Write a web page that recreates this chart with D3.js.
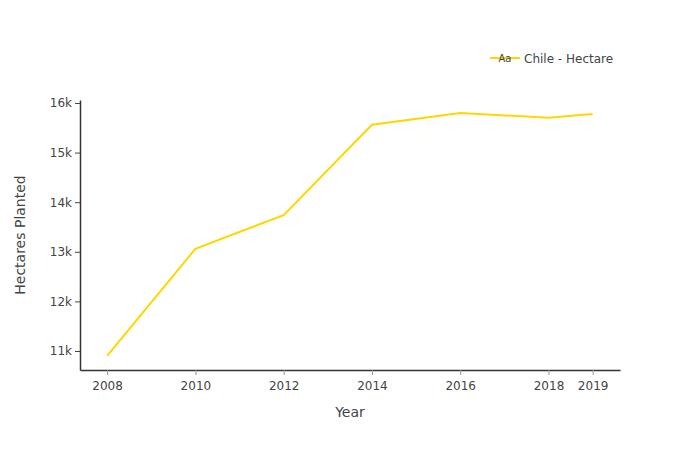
<!DOCTYPE html>
<html>
<head>
<meta charset="utf-8">
<script src="https://cdn.jsdelivr.net/npm/d3@7"></script>
<style>
  body { margin: 0; background: #fff; }
  text { font-family: Verdana, "DejaVu Sans", sans-serif; fill: #444; }
</style>
</head>
<body>
<div id="chart"></div>
<script>
// values
const years = [2008, 2010, 2012, 2014, 2016, 2018, 2019];
const hectares = [10900, 13060, 13740, 15560, 15800, 15700, 15780];
const yTicks = [11000, 12000, 13000, 14000, 15000, 16000];
const seriesName = "Chile - Hectare";

const width = 700, height = 450;
const margin = { top: 100, right: 80, bottom: 80, left: 80 };
const lineColor = "#FFD700";

const svg = d3.select("#chart").append("svg")
  .attr("width", width)
  .attr("height", height);

const x = d3.scaleLinear()
  .domain([2007.386, 2019.62])
  .range([margin.left, width - margin.right]);

const y = d3.scaleLinear()
  .domain([10617, 16060])
  .range([height - margin.bottom, margin.top]);

// x axis
const xAxis = svg.append("g")
  .attr("transform", `translate(0,${height - margin.bottom})`)
  .call(d3.axisBottom(x).tickValues(years).tickFormat(d3.format("d"))
    .tickSizeInner(5).tickSizeOuter(0).tickPadding(6));
xAxis.select(".domain").attr("stroke", "#333").attr("stroke-width", 1.5);
xAxis.selectAll(".tick line").attr("stroke", "#999");
xAxis.selectAll(".tick text").style("font-size", "12px").attr("fill", "#444");

// y axis
const yAxis = svg.append("g")
  .attr("transform", `translate(${margin.left},0)`)
  .call(d3.axisLeft(y).tickValues(yTicks).tickFormat(d => d / 1000 + "k")
    .tickSizeInner(5).tickSizeOuter(0).tickPadding(3));
yAxis.select(".domain").attr("stroke", "#333").attr("stroke-width", 1.5);
yAxis.selectAll(".tick line").attr("stroke", "#444");
yAxis.selectAll(".tick text").style("font-size", "12px").attr("fill", "#444");

// axis titles
svg.append("text")
  .attr("x", (margin.left + width - margin.right) / 2)
  .attr("y", 417)
  .attr("text-anchor", "middle")
  .style("font-size", "14px")
  .text("Year");

svg.append("text")
  .attr("transform", `translate(25,${(margin.top + height - margin.bottom) / 2}) rotate(-90)`)
  .attr("text-anchor", "middle")
  .style("font-size", "14px")
  .text("Hectares Planted");

// line
const line = d3.line()
  .x((d, i) => x(years[i]))
  .y(d => y(d));

svg.append("path")
  .datum(hectares)
  .attr("fill", "none")
  .attr("stroke", lineColor)
  .attr("stroke-width", 2)
  .attr("d", line);

// legend
const legend = svg.append("g").attr("transform", "translate(490,58)");
legend.append("line")
  .attr("x1", 0).attr("x2", 30)
  .attr("stroke", lineColor).attr("stroke-width", 2);
legend.append("text")
  .attr("x", 15).attr("y", 4)
  .attr("text-anchor", "middle")
  .style("font-size", "10px")
  .attr("fill", "#444")
  .text("Aa");
legend.append("text")
  .attr("x", 34).attr("y", 5)
  .style("font-size", "12px")
  .text(seriesName);
</script>
</body>
</html>
